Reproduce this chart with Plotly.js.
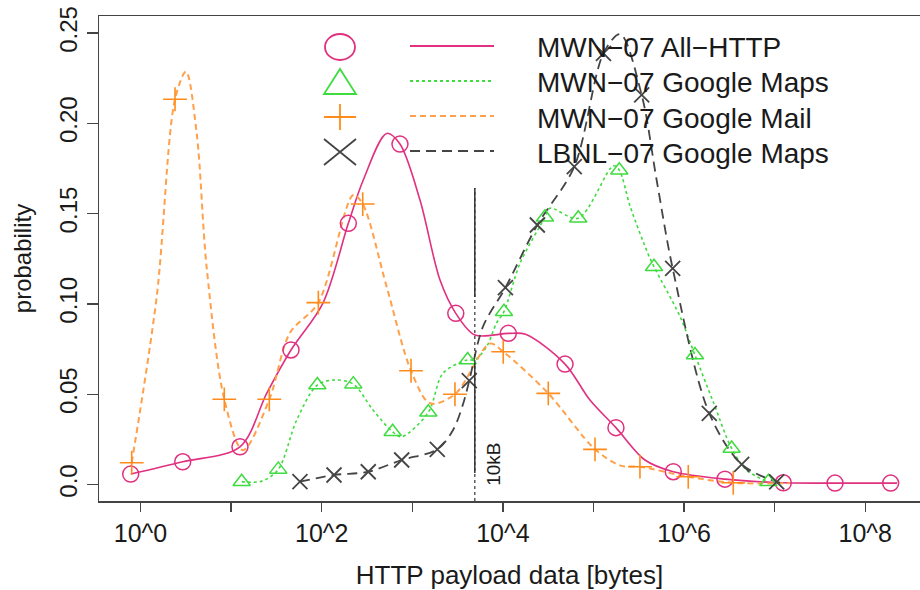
<!DOCTYPE html>
<html><head><meta charset="utf-8">
<script src="https://cdn.plot.ly/plotly-3.0.1.min.js"></script>
<style>html,body{margin:0;padding:0;background:#fff}</style>
</head><body><div id="chart" style="width:920px;height:590px"></div>
<script>
// ---- data (x given as log10 of payload bytes) ----
const seriesNames = ['MWN\u221207 All\u2212HTTP', 'MWN\u221207 Google Maps', 'MWN\u221207 Google Mail', 'LBNL\u221207 Google Maps'];

const allHttpMarkLogX = [-0.108, 0.466, 1.098, 1.661, 2.294, 2.864, 3.48, 4.06, 4.686, 5.248, 5.881, 6.451, 7.095, 7.666, 8.28];
const allHttpMarkY    = [0.0058, 0.0126, 0.0209, 0.0745, 0.1446, 0.1885, 0.0948, 0.0837, 0.0667, 0.0315, 0.0071, 0.003, 0.001, 0.0008, 0.0008];
const allHttpCurveLogX = [-0.108, 0.466, 1.098, 1.393, 1.661, 2.014, 2.294, 2.459, 2.717, 2.864, 3.085, 3.306, 3.48, 3.69, 4.06, 4.25, 4.686, 4.961, 5.248, 5.568, 5.881, 6.451, 7.095, 7.666, 8.28, 8.35];
const allHttpCurveY    = [0.0058, 0.0126, 0.0209, 0.0505, 0.0745, 0.1005, 0.1446, 0.1686, 0.1944, 0.1885, 0.1575, 0.1132, 0.0948, 0.0828, 0.0837, 0.0832, 0.0667, 0.0468, 0.0315, 0.0136, 0.0071, 0.003, 0.001, 0.0008, 0.0008, 0.0008];

const mapsMarkLogX = [1.117, 1.521, 1.952, 2.349, 2.783, 3.177, 3.611, 4.012, 4.465, 4.832, 5.285, 5.668, 6.12, 6.525, 6.93];
const mapsMarkY    = [0.0016, 0.0084, 0.0551, 0.0556, 0.0292, 0.040, 0.069, 0.0957, 0.148, 0.1474, 0.174, 0.1206, 0.0717, 0.020, 0.0015];
const mapsCurveLogX = [1.117, 1.34, 1.521, 1.724, 1.952, 2.15, 2.349, 2.566, 2.783, 2.883, 3.177, 3.34, 3.611, 3.69, 3.82, 3.93, 4.012, 4.19, 4.465, 4.52, 4.832, 5.22, 5.285, 5.406, 5.6, 5.668, 5.955, 6.12, 6.32, 6.525, 6.69, 6.93];
const mapsCurveY    = [0.0016, 0.0019, 0.0084, 0.0357, 0.0551, 0.0579, 0.0556, 0.0413, 0.0292, 0.0265, 0.040, 0.0617, 0.069, 0.069, 0.0763, 0.0894, 0.0957, 0.1226, 0.148, 0.153, 0.1474, 0.1765, 0.174, 0.1538, 0.128, 0.1206, 0.093, 0.0717, 0.046, 0.020, 0.008, 0.0015];

const mailMarkLogX = [-0.097, 0.381, 0.925, 1.422, 1.963, 2.453, 2.986, 3.471, 4.004, 4.501, 5.017, 5.513, 6.046, 6.543];
const mailMarkY    = [0.0121, 0.2133, 0.0472, 0.0472, 0.1007, 0.1553, 0.063, 0.050, 0.0735, 0.0505, 0.0195, 0.0099, 0.0043, 0.001];
const mailCurveLogX = [-0.097, 0.179, 0.381, 0.502, 0.62, 0.73, 0.925, 1.131, 1.422, 1.65, 1.963, 2.349, 2.453, 2.717, 2.986, 3.196, 3.471, 3.857, 4.004, 4.501, 5.017, 5.3, 5.513, 6.046, 6.543, 7.17];
const mailCurveY    = [0.0121, 0.104, 0.2133, 0.2286, 0.1946, 0.1204, 0.0472, 0.019, 0.0472, 0.084, 0.1007, 0.1603, 0.1553, 0.1095, 0.063, 0.045, 0.050, 0.078, 0.0735, 0.0505, 0.0195, 0.0105, 0.0099, 0.0043, 0.001, 0.0008];

const lbnlMarkLogX = [1.76, 2.136, 2.514, 2.883, 3.276, 3.629, 4.028, 4.38, 4.788, 5.11, 5.532, 5.874, 6.278, 6.636, 7.022];
const lbnlMarkY    = [0.0016, 0.0053, 0.0071, 0.0136, 0.0195, 0.0575, 0.109, 0.1437, 0.176, 0.2387, 0.2157, 0.1197, 0.0394, 0.0112, 0.0015];
const lbnlCurveLogX = [1.76, 2.136, 2.514, 2.883, 3.276, 3.45, 3.563, 3.629, 3.78, 4.028, 4.38, 4.788, 5.11, 5.294, 5.532, 5.697, 5.874, 6.278, 6.636, 7.022, 7.1];
const lbnlCurveY    = [0.0016, 0.0053, 0.0071, 0.0136, 0.0195, 0.0302, 0.045, 0.0575, 0.0874, 0.109, 0.1437, 0.176, 0.2387, 0.2494, 0.2157, 0.1686, 0.1197, 0.0394, 0.0112, 0.0015, 0.0008];

const xTickVals = [1, 10, 100, 1e3, 1e4, 1e5, 1e6, 1e7, 1e8];
const xTickText = ['10^0', '', '10^2', '', '10^4', '', '10^6', '', '10^8'];
const yTickVals = [0, 0.05, 0.10, 0.15, 0.20, 0.25];
const yTickText = ['0.0', '0.05', '0.10', '0.15', '0.20', '0.25'];

const tenKbMarkBytes = 4900;   // position of the "10kB" marker line
const tenKbSolidSegs = [[0.1642, 0.1038], [0.0673, 0.0064]];
const tenKbTop = 0.1642;

// ---- styles ----
const FONT = 'Liberation Sans, Arial, Helvetica, sans-serif';
const colPink = '#E0307F', colGreen = '#3FDC3F', colOrange = '#FF8C1A', colOrangeLine = '#FFA04A', colBlack = '#454545';
const styles = [
  {color: colPink,  line: colPink,  dash: 'solid', width: 1.6, sym: 'circle-open', size: 16, mw: 1.5},
  {color: colGreen, line: colGreen, dash: 'dot', width: 1.6, sym: 'triangle-up-open', size: 15, mw: 1.5},
  {color: colOrange, line: colOrangeLine, dash: '6px,4px', width: 2, sym: 'cross-thin-open', size: 17, mw: 1.6},
  {color: colBlack, line: colBlack, dash: '10px,6px', width: 1.8, sym: 'x-thin-open', size: 15, mw: 1.8}
];
const toBytes = a => a.map(v => Math.pow(10, v));
const curves = [[allHttpCurveLogX, allHttpCurveY], [mapsCurveLogX, mapsCurveY], [mailCurveLogX, mailCurveY], [lbnlCurveLogX, lbnlCurveY]];
const marks  = [[allHttpMarkLogX, allHttpMarkY], [mapsMarkLogX, mapsMarkY], [mailMarkLogX, mailMarkY], [lbnlMarkLogX, lbnlMarkY]];

const traces = [];
curves.forEach((c, i) => {
  traces.push({x: toBytes(c[0]), y: c[1], mode: 'lines', name: seriesNames[i], showlegend: false, hoverinfo: 'skip',
    line: {color: styles[i].line, dash: styles[i].dash, width: styles[i].width, shape: 'spline', smoothing: 0.9}});
});
marks.forEach((m, i) => {
  traces.push({x: toBytes(m[0]), y: m[1], mode: 'markers', name: seriesNames[i], showlegend: false,
    marker: {symbol: styles[i].sym, size: styles[i].size, color: styles[i].color, line: {color: styles[i].color, width: styles[i].mw}}});
});

// ---- layout geometry (pixels) ----
const W = 920, H = 590, mL = 99, mR = 0, mT = 16, mB = 89;
const pw = W - mL - mR, ph = H - mT - mB;
const px2paperX = p => (p - mL) / pw;
const py2paperY = p => (H - mB - p) / ph;

const legendRowsPx = [47, 82, 117, 152];
const legendMarkerPx = 340, legendLineFromPx = 410, legendLineToPx = 494, legendTextPx = 535;
const legendPaths = [
  null,
  'M -16 -12 L 16 -12 L 0 13 Z',
  'M -16 0 L 16 0 M 0 -13 L 0 13',
  'M -16 -13 L 16 13 M -16 13 L 16 -13'
];

const shapes = [];
const annotations = [];
legendRowsPx.forEach((rowPx, i) => {
  const s = styles[i];
  const ax = px2paperX(legendMarkerPx), ay = py2paperY(rowPx);
  if (i === 0) {
    shapes.push({type: 'circle', xref: 'paper', yref: 'paper', xsizemode: 'pixel', ysizemode: 'pixel', xanchor: ax, yanchor: ay,
      x0: -15, x1: 15, y0: -13, y1: 13, line: {color: s.color, width: 1.8}});
  } else {
    shapes.push({type: 'path', xref: 'paper', yref: 'paper', xsizemode: 'pixel', ysizemode: 'pixel', xanchor: ax, yanchor: ay,
      path: legendPaths[i], line: {color: s.color, width: 1.8}});
  }
  shapes.push({type: 'line', xref: 'paper', yref: 'paper', x0: px2paperX(legendLineFromPx), x1: px2paperX(legendLineToPx),
    y0: py2paperY(rowPx - 1), y1: py2paperY(rowPx - 1), line: {color: s.line, width: 2, dash: s.dash}});
  annotations.push({xref: 'paper', yref: 'paper', x: px2paperX(legendTextPx), y: py2paperY(rowPx + 1), xanchor: 'left', yanchor: 'middle',
    text: seriesNames[i], showarrow: false, font: {family: FONT, size: 28, color: '#1a1a1a'}});
});

// 10kB marker line
shapes.push({type: 'line', xref: 'x', yref: 'paper', x0: tenKbMarkBytes, x1: tenKbMarkBytes, y0: 0, y1: (tenKbTop + 0.0091) / 0.2685,
  line: {color: '#333', width: 1.2, dash: 'dot'}});
tenKbSolidSegs.forEach(seg => {
  shapes.push({type: 'line', xref: 'x', yref: 'y', x0: tenKbMarkBytes, x1: tenKbMarkBytes, y0: seg[0], y1: seg[1],
    line: {color: '#333', width: 1.5}});
});
annotations.push({xref: 'x', yref: 'y', x: Math.log10(tenKbMarkBytes), y: 0.0114, xshift: 19, text: '10kB', textangle: -90,
  showarrow: false, font: {family: FONT, size: 19, color: '#1a1a1a'}});

const layout = {
  width: W, height: H,
  margin: {l: mL, r: mR, t: mT, b: mB, pad: 0},
  paper_bgcolor: '#fff', plot_bgcolor: '#fff',
  showlegend: false,
  font: {family: FONT, color: '#1a1a1a'},
  xaxis: {
    type: 'log', range: [-0.458, 8.604], tickvals: xTickVals, ticktext: xTickText,
    ticks: 'outside', ticklen: 9, tickwidth: 1.5, tickcolor: '#444',
    showline: true, linecolor: '#444', linewidth: 1.5, mirror: true,
    showgrid: false, zeroline: false, automargin: false,
    tickfont: {family: FONT, size: 25, color: '#1a1a1a'},
    title: {text: 'HTTP payload data [bytes]', font: {family: FONT, size: 26, color: '#1a1a1a'}, standoff: 22}
  },
  yaxis: {
    range: [-0.0091, 0.2594], tickvals: yTickVals, ticktext: yTickText, tickangle: -90,
    ticks: 'outside', ticklen: 11, tickwidth: 1.5, tickcolor: '#444',
    showline: true, linecolor: '#444', linewidth: 1.5, mirror: false,
    showgrid: false, zeroline: false, automargin: false,
    tickfont: {family: FONT, size: 24, color: '#1a1a1a'},
    title: {text: 'probability', font: {family: FONT, size: 24, color: '#1a1a1a'}, standoff: 16}
  },
  shapes: shapes,
  annotations: annotations
};

Plotly.newPlot('chart', traces, layout, {staticPlot: true, displayModeBar: false});
</script></body></html>
